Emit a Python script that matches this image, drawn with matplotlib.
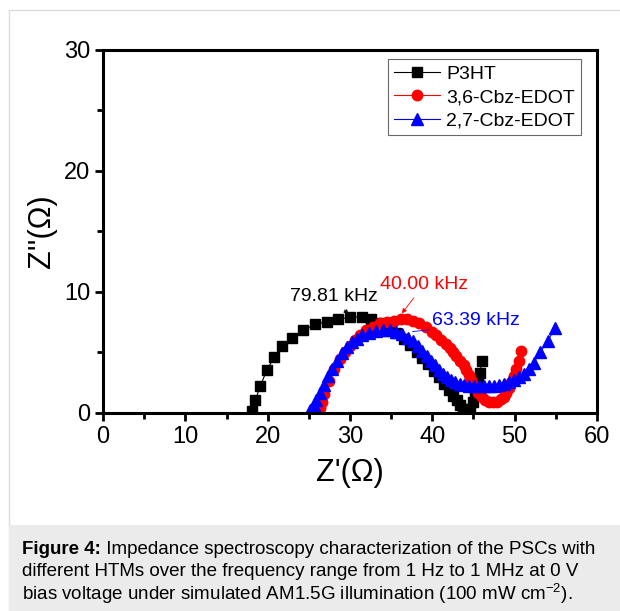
import numpy as np
import matplotlib
matplotlib.use("Agg")
import matplotlib.pyplot as plt
from matplotlib.patches import Rectangle
from matplotlib.ticker import MultipleLocator

plt.rcParams['font.family'] = ['Liberation Sans', 'DejaVu Sans']
plt.rcParams['mathtext.fontset'] = 'custom'
plt.rcParams['mathtext.rm'] = 'Liberation Sans'

# P3HT (black squares)
p3ht_x = [18.1, 18.5, 19.1, 19.9, 20.8, 21.8, 23.0, 24.3, 25.7, 27.2, 28.6, 30.0,
          31.4, 32.6, 33.7, 34.7, 35.6, 36.5, 37.3, 38.1, 38.8, 39.5, 40.2, 40.8,
          41.4, 42.0, 42.5, 43.0, 43.4, 43.7, 44.0, 44.3, 44.6, 44.9, 45.2, 45.5,
          45.8, 46.0]
p3ht_y = [0.1, 1.0, 2.2, 3.5, 4.6, 5.5, 6.2, 6.8, 7.3, 7.5, 7.7, 7.9,
          7.9, 7.7, 7.4, 7.0, 6.6, 6.1, 5.6, 5.0, 4.5, 4.0, 3.4, 2.9,
          2.4, 1.9, 1.4, 1.0, 0.6, 0.3, 0.1, 0.1, 0.3, 0.9, 1.7, 2.5,
          3.3, 4.3]

# 3,6-Cbz-EDOT (red circles)
cbz36_x = [26.3, 26.6, 26.9, 27.4, 28.1, 28.8, 29.4, 30.0, 30.6, 31.2, 32.0, 32.8,
           33.7, 34.5, 35.4, 36.2, 36.9, 37.7, 38.4, 39.2, 39.9, 40.5, 41.1, 41.6,
           42.1, 42.5, 42.9, 43.4, 43.8, 44.1, 44.4, 44.7, 45.0, 45.3, 45.6, 46.0,
           46.4, 46.9, 47.4, 47.9, 48.4, 48.7, 49.0, 49.3, 49.6, 49.9, 50.2, 50.5,
           50.8]
cbz36_y = [0.4, 0.9, 1.5, 2.6, 3.6, 4.4, 5.0, 5.5, 6.0, 6.4, 6.8, 7.1,
           7.4, 7.5, 7.6, 7.7, 7.7, 7.6, 7.4, 7.1, 6.7, 6.4, 6.0, 5.7,
           5.3, 5.0, 4.7, 4.3, 3.9, 3.5, 3.1, 2.7, 2.3, 2.0, 1.6, 1.3,
           1.0, 0.9, 0.9, 0.9, 1.1, 1.3, 1.6, 2.0, 2.5, 3.0, 3.6, 4.3,
           5.1]

# 2,7-Cbz-EDOT (blue triangles)
cbz27_x = [25.2, 25.6, 25.9, 26.3, 26.8, 27.3, 27.8, 28.4, 29.0, 29.6, 30.2, 30.8,
           31.5, 32.3, 33.1, 34.0, 34.8, 35.6, 36.3, 37.0, 37.7, 38.3, 38.8, 39.3,
           39.8, 40.3, 40.8, 41.3, 41.8, 42.3, 42.8, 43.3, 43.9, 44.5, 45.1, 45.7,
           46.3, 46.9, 47.5, 48.1, 48.7, 49.3, 49.9, 50.5, 51.1, 51.7, 52.3, 53.1,
           54.0, 54.9]
cbz27_y = [0.2, 0.6, 1.0, 1.6, 2.3, 3.0, 3.6, 4.3, 4.9, 5.4, 5.8, 6.1,
           6.4, 6.6, 6.75, 6.8, 6.8, 6.7, 6.5, 6.2, 5.9, 5.5, 5.1, 4.7,
           4.3, 3.9, 3.5, 3.2, 2.9, 2.7, 2.5, 2.4, 2.3, 2.2, 2.2, 2.2,
           2.2, 2.2, 2.2, 2.3, 2.4, 2.5, 2.7, 2.9, 3.2, 3.6, 4.1, 5.0,
           5.9, 7.0]

labels = ["P3HT", "3,6-Cbz-EDOT", "2,7-Cbz-EDOT"]
caption_bold = "Figure 4:"
caption_rest = [" Impedance spectroscopy characterization of the PSCs with",
                "different HTMs over the frequency range from 1 Hz to 1 MHz at 0 V",
                r"bias voltage under simulated AM1.5G illumination (100 mW cm$^{-2}$)."]


def main():
    fig = plt.figure(figsize=(6.2, 6.11), dpi=100)

    # page frame and caption box
    fig.add_artist(Rectangle((9 / 620, 0), 1, 1 - 10 / 611, transform=fig.transFigure,
                             fc="white", ec="#dcdcdc", lw=1.0, zorder=-2))
    fig.add_artist(Rectangle((9 / 620, 0), 1, 1 - 525 / 611, transform=fig.transFigure,
                             fc="#ebebeb", ec="none", zorder=-1))

    ax = fig.add_axes([103 / 620, 1 - 412.5 / 611, 494 / 620, 362.5 / 611])
    ax.plot(p3ht_x, p3ht_y, color="black", lw=0.8, marker="s", ms=6.5, label=labels[0])
    ax.plot(cbz36_x, cbz36_y, color="red", lw=0.8, marker="o", ms=7.5, label=labels[1])
    ax.plot(cbz27_x, cbz27_y, color="blue", lw=0.8, marker="^", ms=8, label=labels[2])

    ax.set_xlim(0, 60)
    ax.set_ylim(0, 30)
    ax.xaxis.set_major_locator(MultipleLocator(10))
    ax.xaxis.set_minor_locator(MultipleLocator(5))
    ax.yaxis.set_major_locator(MultipleLocator(10))
    ax.yaxis.set_minor_locator(MultipleLocator(5))
    ax.tick_params(which="both", direction="out", width=2, labelsize=17,
                   top=False, right=False)
    ax.tick_params(which="major", length=6, pad=3)
    ax.tick_params(axis="x", which="major", pad=4)
    ax.tick_params(which="minor", length=4)
    for s in ax.spines.values():
        s.set_linewidth(2.2)

    ax.set_xlabel("Z'(Ω)", fontsize=22, labelpad=7)
    ax.set_ylabel("Z''(Ω)", fontsize=22, labelpad=5)

    # frequency annotations
    ax.annotate("79.81 kHz", xy=(29.8, 8.1), xytext=(28.0, 9.6), fontsize=14,
                ha="center", va="center", color="black",
                arrowprops=dict(arrowstyle="-|>", color="black", lw=0.6,
                                mutation_scale=7, shrinkA=2, shrinkB=0))
    ax.annotate("40.00 kHz", xy=(36.3, 8.2), xytext=(39.0, 10.6), fontsize=14,
                ha="center", va="center", color="red",
                arrowprops=dict(arrowstyle="-|>", color="red", lw=0.6,
                                mutation_scale=7, shrinkA=2, shrinkB=0))
    ax.annotate("63.39 kHz", xy=(37.6, 6.7), xytext=(45.3, 7.6), fontsize=14,
                ha="center", va="center", color="blue",
                arrowprops=dict(arrowstyle="-", color="blue", lw=0.6,
                                shrinkA=0, shrinkB=0, relpos=(0.05, 0.0)))

    leg = ax.legend(loc="upper right", bbox_to_anchor=(0.975, 0.985), fontsize=14,
                    frameon=True, fancybox=False, edgecolor="#444444",
                    handlelength=2.4, handletextpad=0.3, borderpad=0.3,
                    labelspacing=0.3, borderaxespad=0.2)
    leg.get_frame().set_linewidth(0.8)

    # caption
    fs = 13.5
    t0 = fig.text(22 / 620, 1 - 549 / 611, caption_bold, fontsize=fs, fontweight="bold",
                  va="center", ha="left")
    fig.canvas.draw()
    bb = t0.get_window_extent()
    fig.text(bb.x1 / 620, 1 - 549 / 611, caption_rest[0], fontsize=fs,
             va="center", ha="left")
    fig.text(22 / 620, 1 - 571 / 611, caption_rest[1], fontsize=fs, va="center", ha="left")
    fig.text(22 / 620, 1 - 594 / 611, caption_rest[2], fontsize=fs, va="center", ha="left")

    fig.savefig("out.png", dpi=100)


if __name__ == "__main__":
    main()
